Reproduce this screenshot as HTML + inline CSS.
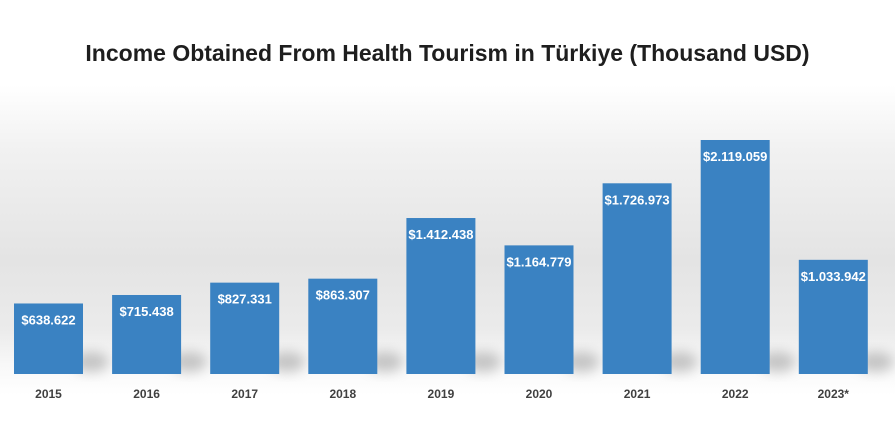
<!DOCTYPE html>
<html><head><meta charset="utf-8"><style>
body{margin:0;width:895px;height:439px;overflow:hidden;font-family:"Liberation Sans",sans-serif;
background:linear-gradient(to bottom,#fff 0px,#fff 85px,#f1f1f1 150px,#e4e4e4 260px,#ebebeb 330px,#f8f8f8 365px,#fff 395px,#fff 439px);}
h1{position:absolute;left:0;width:895px;top:40px;margin:0;text-align:center;font-size:23px;font-weight:bold;color:#1e1e1e;}
</style></head><body>
<h1>Income Obtained From Health Tourism in Türkiye (Thousand USD)</h1>
<svg id="chart" width="895" height="439" style="position:absolute;left:0;top:0">
<defs><filter id="sh" x="-50%" y="-50%" width="200%" height="200%"><feGaussianBlur stdDeviation="6"/></filter></defs>
</svg>
<script>
const categories=["2015","2016","2017","2018","2019","2020","2021","2022","2023*"];
const values=[638.622,715.438,827.331,863.307,1412.438,1164.779,1726.973,2119.059,1033.942];
const labels=["$638.622","$715.438","$827.331","$863.307","$1.412.438","$1.164.779","$1.726.973","$2.119.059","$1.033.942"];
const svg=document.getElementById('chart');
const NS='http://www.w3.org/2000/svg';
const baseY=374, pxPer=(374-140)/2119.059;
const y=v=>baseY-v*pxPer;
const x=i=>14+i*98.1;
const bw=69;
function mk(t,a){const e=document.createElementNS(NS,t);for(const k in a)e.setAttribute(k,a[k]);svg.appendChild(e);return e;}
categories.forEach((c,i)=>{
  const s=mk('ellipse',{cx:x(i)+bw+8,cy:baseY-12,rx:18,ry:10,fill:'#9a9a9a',opacity:0.55,filter:'url(#sh)'});
  
  
  const r=mk('rect',{x:x(i),y:y(values[i]),width:bw,height:baseY-y(values[i]),fill:'#3a82c2'});
  
  
  const t=mk('text',{x:x(i)+bw/2,y:y(values[i])+21,'text-anchor':'middle','font-size':'13','font-weight':'bold',fill:'#fff'});
  t.textContent=labels[i];
  
  
  const l=mk('text',{x:x(i)+bw/2,y:398,'text-anchor':'middle','font-size':'12','font-weight':'bold',fill:'#404040'});
  l.textContent=c;
  
  
});
</script>
</body></html>
